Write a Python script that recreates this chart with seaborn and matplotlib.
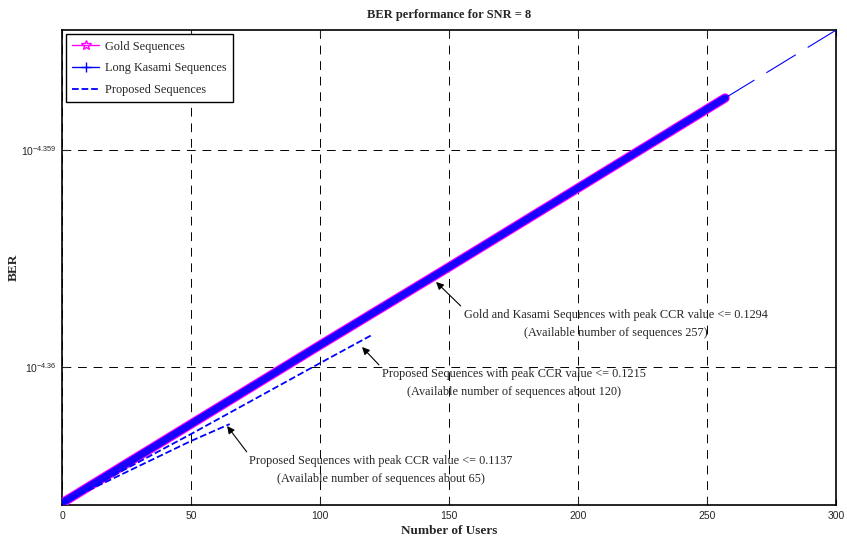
import numpy as np
import pandas as pd
import matplotlib
matplotlib.use('agg')
import matplotlib.pyplot as plt
import seaborn as sns
from matplotlib.lines import Line2D
from matplotlib.ticker import NullLocator

# values (BER given as log10 exponent)
gold_users = [0, 50, 100, 150, 200, 257]
gold_exp = [-4.360627, -4.360263, -4.359899, -4.359539, -4.359175, -4.358760]

kasami_users = [0, 50, 100, 150, 200, 257]
kasami_exp = [-4.360627, -4.360263, -4.359899, -4.359539, -4.359175, -4.358760]

tail_users = [257, 300]
tail_exp = [-4.358760, -4.358447]

prop65_users = [0, 25, 50, 65]
prop65_exp = [-4.360627, -4.360484, -4.360341, -4.360263]

prop120_users = [0, 50, 100, 120]
prop120_exp = [-4.360627, -4.360309, -4.359982, -4.359853]

ytick_exp = [-4.36, -4.359]
ytick_labels = ['$10^{-4.36}$', '$10^{-4.359}$']


def ber(exp):
    return [10 ** e for e in exp]


sns.set_style('ticks')
plt.rcParams['font.family'] = ['Liberation Serif', 'DejaVu Serif']
plt.rcParams['mathtext.default'] = 'regular'
plt.rcParams['axes.unicode_minus'] = False

fig = plt.figure(figsize=(8.47, 5.48), dpi=100)
ax = fig.add_axes([0.0732, 0.0785, 0.9138, 0.8665])
ax.set_yscale('log')

gold = pd.DataFrame({'users': gold_users, 'ber': ber(gold_exp)})
kasami = pd.DataFrame({'users': kasami_users, 'ber': ber(kasami_exp)})
tail = pd.DataFrame({'users': tail_users, 'ber': ber(tail_exp)})
p65 = pd.DataFrame({'users': prop65_users, 'ber': ber(prop65_exp)})
p120 = pd.DataFrame({'users': prop120_users, 'ber': ber(prop120_exp)})

sns.lineplot(data=gold, x='users', y='ber', ax=ax, color='#ff00ff', lw=6.8, zorder=3)
sns.lineplot(data=kasami, x='users', y='ber', ax=ax, color='#1a00ff', lw=5.2, zorder=4)
sns.lineplot(data=tail, x='users', y='ber', ax=ax, color='#0000ff', lw=0.8,
             linestyle=(0, (31, 12.6)), zorder=4)
sns.lineplot(data=p65, x='users', y='ber', ax=ax, color='#0000ff', lw=1.3,
             linestyle='--', zorder=5)
sns.lineplot(data=p120, x='users', y='ber', ax=ax, color='#0000ff', lw=1.3,
             linestyle='--', zorder=5)

ax.set_xlim(0, 300)
ax.set_ylim(10 ** -4.360636, 10 ** -4.358447)
ax.set_xticks([0, 50, 100, 150, 200, 250, 300])
ax.set_yticks(ber(ytick_exp))
ax.set_yticklabels(ytick_labels)
ax.yaxis.set_minor_locator(NullLocator())
ax.tick_params(direction='in', length=4, width=0.8, top=True, right=True,
               labelsize=7.5, pad=4)
for lab in ax.get_xticklabels() + ax.get_yticklabels():
    lab.set_fontfamily('Liberation Sans')

ax.grid(True, color='k', linestyle=(0, (9, 7)), linewidth=0.7)
for s in ax.spines.values():
    s.set_color('k')
    s.set_linewidth(1.2)

ax.set_title('BER performance for SNR = 8', fontsize=9, fontweight='bold', pad=9)
ax.set_xlabel('Number of Users', fontsize=9.5, fontweight='bold', labelpad=3)
ax.set_ylabel('BER', fontsize=9.5, fontweight='bold', labelpad=1)

handles = [
    Line2D([], [], color='#ff00ff', lw=1, marker='*', markersize=7,
           markerfacecolor='none', markeredgecolor='#ff00ff'),
    Line2D([], [], color='#0000ff', lw=1, marker='+', markersize=7),
    Line2D([], [], color='#0000ff', lw=1.3, linestyle='--'),
]
leg = ax.legend(handles, ['Gold Sequences', 'Long Kasami Sequences', 'Proposed Sequences'],
                loc='upper left', fontsize=8.8, fancybox=False, framealpha=1,
                edgecolor='k', handlelength=2.2, handletextpad=0.5, borderpad=0.5,
                labelspacing=0.8, borderaxespad=0.35)
leg.get_frame().set_linewidth(1.0)

arrow = dict(arrowstyle='-|>', color='k', lw=0.8, mutation_scale=11, relpos=(0, 1),
             shrinkA=0, shrinkB=0)
note = dict(ha='center', va='center', multialignment='center', fontsize=8.8,
            linespacing=1.65, arrowprops=arrow)
ax.annotate('Gold and Kasami Sequences with peak CCR value <= 0.1294\n'
            '(Available number of sequences 257)',
            xy=(145, 10 ** -4.359608), xytext=(214.7, 10 ** -4.359802), **note)
ax.annotate('Proposed Sequences with peak CCR value <= 0.1215\n'
            '(Available number of sequences about 120)',
            xy=(116.3, 10 ** -4.359908), xytext=(175.2, 10 ** -4.360074), **note)
ax.annotate('Proposed Sequences with peak CCR value <= 0.1137\n'
            '(Available number of sequences about 65)',
            xy=(64, 10 ** -4.360272), xytext=(123.6, 10 ** -4.360475), **note)

plt.savefig('out.png', dpi=100)
